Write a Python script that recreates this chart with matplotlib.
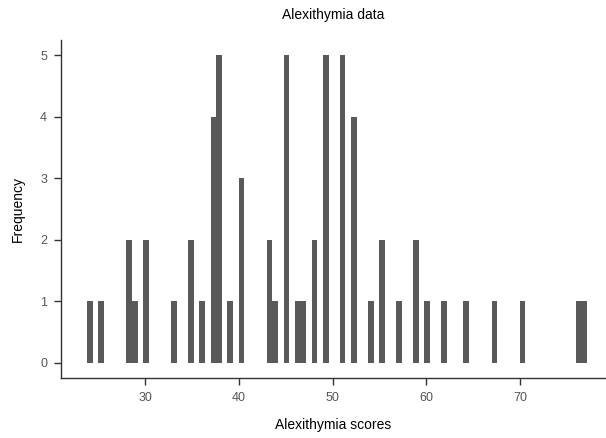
import numpy as np
import matplotlib
matplotlib.use('Agg')
import matplotlib.pyplot as plt

# 图中读出的分数 (每个条形一个值) 与对应频数
score_values = [24.1, 25.3, 28.3, 28.9, 30.1, 33.1, 34.9, 36.1, 37.3, 37.9,
                39.1, 40.3, 43.3, 43.9, 45.1, 46.3, 46.9, 48.1, 49.3, 51.1,
                52.3, 54.1, 55.3, 57.1, 58.9, 60.1, 61.9, 64.3, 67.3, 70.3,
                76.3, 76.9]
score_counts = [1, 1, 2, 1, 2, 1, 2, 1, 4, 5,
                1, 3, 2, 1, 5, 1, 1, 2, 5, 5,
                4, 1, 2, 1, 2, 1, 1, 1, 1, 1,
                1, 1]

# 还原为原始分数序列
scores = np.repeat(score_values, score_counts)

title = 'Alexithymia data'
x_label = 'Alexithymia scores'
y_label = 'Frequency'

plt.rcParams['font.family'] = ['Liberation Sans', 'DejaVu Sans']

fig = plt.figure(figsize=(6.06, 4.38), dpi=100)
ax = fig.add_axes([61 / 606, 60 / 438, 545 / 606, 338 / 438])

# 直方图
ax.hist(scores, bins=89, range=(23.78, 77.18), color='#595959', edgecolor='none')

ax.set_xlim(21.0, 79.2)
ax.set_ylim(-0.25, 5.25)
ax.set_xticks([30, 40, 50, 60, 70])
ax.set_yticks([0, 1, 2, 3, 4, 5])

for side in ['top', 'right']:
    ax.spines[side].set_visible(False)
for side in ['left', 'bottom']:
    ax.spines[side].set_color('#333333')
    ax.spines[side].set_linewidth(1.0)

ax.tick_params(axis='both', direction='out', length=5, width=1, color='#333333',
               labelcolor='#555555', labelsize=9, pad=5)

ax.set_title(title, fontsize=10, pad=15)
ax.set_xlabel(x_label, fontsize=10, labelpad=10)
ax.set_ylabel(y_label, fontsize=10, labelpad=11)

plt.savefig('out.png', dpi=100)
